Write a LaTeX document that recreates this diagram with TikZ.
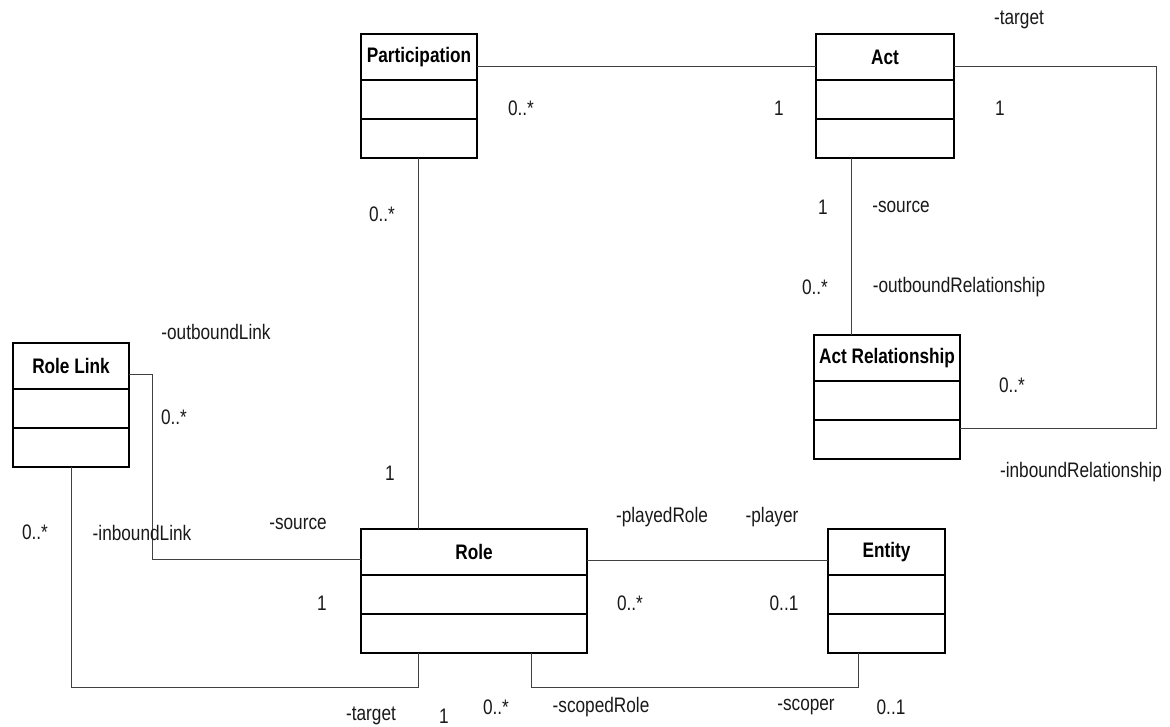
\documentclass[tikz,border=0pt]{standalone}
\usepackage{fontspec}
\setmainfont[FakeStretch=0.82]{Liberation Sans}
\usetikzlibrary{calc}

\tikzset{
  classbox/.style={draw=black, line width=1.4pt, fill=white, minimum height=124pt,
                   inner sep=0pt, outer sep=0pt},
  classline/.style={draw=black, line width=1.4pt},
  classtitle/.style={font=\fontsize{21}{23}\selectfont\bfseries, inner sep=0pt},
  assoc/.style={draw=black!75, line width=0.9pt},
  lbl/.style={font=\fontsize{21}{23}\selectfont, inner sep=0pt, text=black!90},
}

% class box: name, x, y (top left), width, title
\newcommand\umlclass[5]{%
  \node[classbox, minimum width=#4pt, anchor=north west] (#1) at (#2,#3) {};
  \draw[classline] ([yshift=-46pt]#1.north west) -- ([yshift=-46pt]#1.north east);
  \draw[classline] ([yshift=-85pt]#1.north west) -- ([yshift=-85pt]#1.north east);
  \node[classtitle] (#1-title) at ([yshift=-23pt]#1.north) {#5};
}

\begin{document}
\begin{tikzpicture}[x=1pt, y=-1pt]
\useasboundingbox[fill=white] (0,0) rectangle (1170,727);

% classes
\umlclass{part}{361}{34}{116}{Participation}
\umlclass{act}{816}{34}{138}{Act}
\umlclass{rl}{13}{343}{116}{Role Link}
\umlclass{ar}{814}{335}{146}{Act Relationship}
\umlclass{role}{361}{529}{226}{Role}
\umlclass{ent}{828}{529}{117}{Entity}

% anchor points for associations
\coordinate (partout) at ([yshift=-32pt]part.north east);
\coordinate (actin)   at ([yshift=-32pt]act.north west);
\coordinate (actsrc)  at ([xshift=35pt]act.south west);
\coordinate (acttgt)  at ([yshift=-32pt]act.north east);
\coordinate (arin)    at ([yshift=-93pt]ar.north east);
\coordinate (loopx)   at (1156,0);
\coordinate (partbot) at ([xshift=57pt]part.south west);
\coordinate (rlout)   at ([yshift=-31pt]rl.north east);
\coordinate (rolein)  at ([yshift=-30pt]role.north west);
\coordinate (rlbend)  at (152,0);
\coordinate (roletgt) at ([xshift=57pt]role.south west);
\coordinate (lowrail) at (0,687);
\coordinate (roleplay) at ([yshift=-31pt]role.north east);
\coordinate (rolescope) at ([xshift=170pt]role.south west);
\coordinate (entscope)  at ([xshift=30pt]ent.south west);

% associations
\draw[assoc] (partout) -- (actin);
\draw[assoc] (actsrc) -- (actsrc |- ar.north);
\draw[assoc] (acttgt) -| (loopx |- arin) -- (arin);
\draw[assoc] (partbot) -- (partbot |- role.north);
\draw[assoc] (rlout) -| (rlbend |- rolein) -- (rolein);
\draw[assoc] (rl.south) |- (lowrail -| roletgt) -- (roletgt);
\draw[assoc] (roleplay) -- (roleplay -| ent.west);
\draw[assoc] (rolescope) |- (lowrail -| entscope) -- (entscope);

% role names and multiplicities
\node[lbl] (m-part-act) at (521,108) {0..*};
\node[lbl] (m-act-part) at (779,108) {1};
\node[lbl] (r-act-tgt)  at (1019,20) {-target};
\node[lbl] (m-act-tgt)  at (1000,108) {1};
\node[lbl] (m-part-role) at (382,214) {0..*};
\node[lbl] (m-act-src)  at (823,207) {1};
\node[lbl] (r-act-src)  at (901,207) {-source};
\node[lbl] (m-ar-out)   at (815,287) {0..*};
\node[lbl] (r-ar-out)   at (959,287) {-outboundRelationship};
\node[lbl] (m-ar-in)    at (1012,385) {0..*};
\node[lbl] (r-ar-in)    at (1081,472) {-inboundRelationship};
\node[lbl] (r-rl-out)   at (216,332) {-outboundLink};
\node[lbl] (m-rl-out)   at (174,417) {0..*};
\node[lbl] (m-role-part) at (390,473) {1};
\node[lbl] (r-role-src) at (298,524) {-source};
\node[lbl] (m-rl-in)    at (35,532) {0..*};
\node[lbl] (r-rl-in)    at (142,533) {-inboundLink};
\node[lbl] (r-role-play) at (662,517) {-playedRole};
\node[lbl] (r-ent-play) at (772,517) {-player};
\node[lbl] (m-role-rl)  at (322,603) {1};
\node[lbl] (m-role-ent) at (630,603) {0..*};
\node[lbl] (m-ent-role) at (784,603) {0..1};
\node[lbl] (r-role-tgt) at (371,716) {-target};
\node[lbl] (m-role-tgt) at (444,716) {1};
\node[lbl] (m-role-sc)  at (496,707) {0..*};
\node[lbl] (r-role-sc)  at (601,707) {-scopedRole};
\node[lbl] (r-ent-sc)   at (806,707) {-scoper};
\node[lbl] (m-ent-sc)   at (891,707) {0..1};
\end{tikzpicture}
\end{document}
